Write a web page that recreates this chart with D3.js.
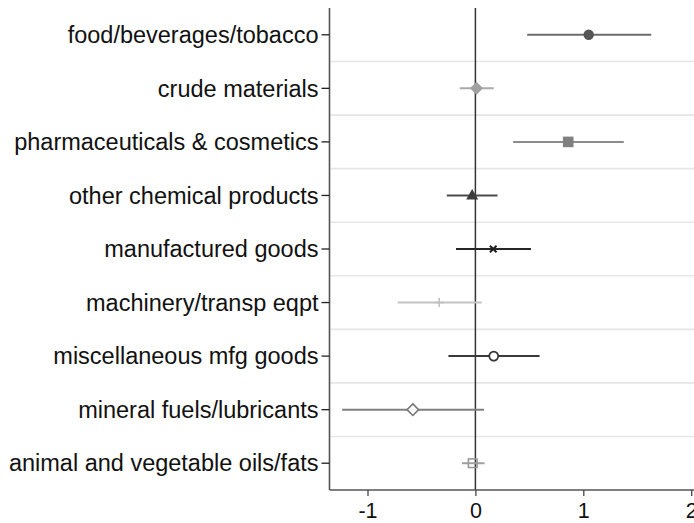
<!DOCTYPE html>
<html>
<head>
<meta charset="utf-8">
<script src="https://cdn.jsdelivr.net/npm/d3@7"></script>
<style>
  html, body { margin: 0; padding: 0; background: #fff; }
  svg { display: block; }
</style>
</head>
<body>
<svg id="chart" width="694" height="523"></svg>
<script>
// Product groups, top to bottom
const categories = [
  "food/beverages/tobacco",
  "crude materials",
  "pharmaceuticals & cosmetics",
  "other chemical products",
  "manufactured goods",
  "machinery/transp eqpt",
  "miscellaneous mfg goods",
  "mineral fuels/lubricants",
  "animal and vegetable oils/fats"
];
// Point estimates and confidence bounds
const estimates = [1.05, 0.01, 0.86, -0.03, 0.165, -0.335, 0.17, -0.58, -0.025];
const lower     = [0.48, -0.145, 0.35, -0.265, -0.18, -0.72, -0.25, -1.235, -0.125];
const upper     = [1.63, 0.17, 1.375, 0.205, 0.515, 0.06, 0.595, 0.08, 0.085];
const xTicks = [-1, 0, 1, 2];

// Marker styling per group
const markerShapes = ["circle", "diamond", "square", "triangle", "cross", "plus", "circleO", "diamondO", "squareO"];
const markerColors = ["#555555", "#a0a0a0", "#808080", "#3c3c3c", "#1e1e1e", "#bdbdbd", "#333333", "#777777", "#999999"];
const lineColors   = ["#6c6c6c", "#aaaaaa", "#8c8c8c", "#4a4a4a", "#262626", "#c4c4c4", "#3a3a3a", "#808080", "#a0a0a0"];

const svg = d3.select("#chart");
const font = "'Liberation Sans', Arial, Helvetica, sans-serif";

const x = d3.scaleLinear().domain([-1, 1]).range([367.5, 583.3]);
const plotLeft = 329.5, plotRight = 694, plotTop = 8, plotBottom = 490;

const y = d3.scaleBand().domain(categories).range([plotTop, plotBottom]).padding(0);

// horizontal grid lines between rows
const gridG = svg.append("g");
categories.slice(1).forEach(c => {
  const gy = y(c);
  gridG.append("line")
    .attr("x1", plotLeft + 1).attr("x2", plotRight)
    .attr("y1", gy).attr("y2", gy)
    .attr("stroke", "#e6e6e6").attr("stroke-width", 1.6);
});

// reference line at zero
svg.append("line")
  .attr("x1", x(0)).attr("x2", x(0))
  .attr("y1", plotTop).attr("y2", plotBottom)
  .attr("stroke", "#333").attr("stroke-width", 1.5);

// y axis
const yAxis = svg.append("g")
  .attr("transform", `translate(${plotLeft},0)`)
  .call(d3.axisLeft(y).tickSize(8).tickPadding(3));
yAxis.select(".domain").attr("stroke", "#555").attr("stroke-width", 1.6)
  .attr("d", `M0,${plotTop}V${plotBottom}`);
yAxis.selectAll(".tick line").attr("stroke", "#222").attr("stroke-width", 1.3);
yAxis.selectAll(".tick text")
  .attr("font-family", font).attr("font-size", 23.5).attr("fill", "#111")
  .attr("dy", "0.35em");

// x axis
const xAxis = svg.append("g")
  .attr("transform", `translate(0,${plotBottom})`)
  .call(d3.axisBottom(x).tickValues(xTicks).tickFormat(d3.format("d")).tickSize(6).tickPadding(7));
xAxis.select(".domain").attr("stroke", "#555").attr("stroke-width", 1.6)
  .attr("d", `M${plotLeft},0H${plotRight}`);
xAxis.selectAll(".tick line").attr("stroke", "#444").attr("stroke-width", 1.3);
xAxis.selectAll(".tick text")
  .attr("font-family", font).attr("font-size", 21.5).attr("fill", "#111")
  .text(d => d < 0 ? "-" + Math.abs(d) : d);

// confidence intervals
const rows = categories.map((c, i) => ({
  c, est: estimates[i], lo: lower[i], hi: upper[i],
  shape: markerShapes[i], mc: markerColors[i], lc: lineColors[i]
}));
const cy = d => y(d.c) + y.bandwidth() / 2;

svg.append("g").selectAll("line").data(rows).join("line")
  .attr("x1", d => x(d.lo)).attr("x2", d => x(d.hi))
  .attr("y1", cy).attr("y2", cy)
  .attr("stroke", d => d.lc).attr("stroke-width", 2);

// markers
const mg = svg.append("g");
rows.forEach(d => {
  const px = x(d.est), py = cy(d);
  const g = mg.append("g").attr("transform", `translate(${px},${py})`);
  switch (d.shape) {
    case "circle":
      g.append("circle").attr("r", 5.2).attr("fill", d.mc); break;
    case "diamond":
      g.append("path").attr("d", "M0,-6.5L6.5,0L0,6.5L-6.5,0Z").attr("fill", d.mc); break;
    case "square":
      g.append("rect").attr("x", -5.3).attr("y", -5.3).attr("width", 10.6).attr("height", 10.6).attr("fill", d.mc); break;
    case "triangle":
      g.append("path").attr("d", "M0,-6.5L6,4L-6,4Z").attr("fill", d.mc); break;
    case "cross":
      g.append("path").attr("d", "M-3.3,-3.3L3.3,3.3M-3.3,3.3L3.3,-3.3")
        .attr("stroke", d.mc).attr("stroke-width", 2).attr("fill", "none"); break;
    case "plus":
      g.append("path").attr("d", "M-4.5,0H4.5M0,-4.5V4.5")
        .attr("stroke", d.mc).attr("stroke-width", 1.5).attr("fill", "none"); break;
    case "circleO":
      g.append("circle").attr("r", 4.5).attr("fill", "#fff")
        .attr("stroke", d.mc).attr("stroke-width", 1.7); break;
    case "diamondO":
      g.append("path").attr("d", "M0,-5.8L5.8,0L0,5.8L-5.8,0Z").attr("fill", "#fff")
        .attr("stroke", d.mc).attr("stroke-width", 1.6); break;
    case "squareO":
      g.append("rect").attr("x", -4.3).attr("y", -4.3).attr("width", 8.6).attr("height", 8.6)
        .attr("fill", "none").attr("stroke", d.mc).attr("stroke-width", 1.6); break;
  }
});
</script>
</body>
</html>
